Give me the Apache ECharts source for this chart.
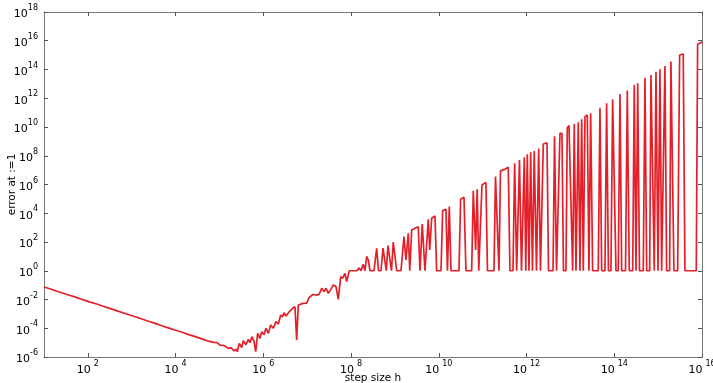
<!DOCTYPE html>
<html>
<head>
<meta charset="utf-8">
<script src="https://cdn.jsdelivr.net/npm/echarts@6.0.0/dist/echarts.min.js"></script>
<style>
  html, body { margin: 0; padding: 0; background: #fff; }
  #chart { width: 713px; height: 383px; }
</style>
</head>
<body>
<div id="chart"></div>
<script>
// exponents (base 10): h and error at that h
const hExponent = [
    1.00, 1.15, 1.30, 1.45, 1.60, 1.75, 1.90, 2.05, 2.20, 2.35, 2.50, 2.65, 2.80, 2.95,
    3.10, 3.25, 3.40, 3.55, 3.70, 3.85, 4.00, 4.15, 4.30, 4.45, 4.60, 4.75,
    4.784, 4.875, 4.944, 5.012, 5.103, 5.201, 5.263, 5.331, 5.377, 5.406, 5.452, 5.507,
    5.543, 5.605, 5.657, 5.695, 5.741, 5.787, 5.826, 5.871, 5.924, 5.962, 6.015, 6.060,
    6.113, 6.168, 6.227, 6.288, 6.341, 6.395, 6.441, 6.471, 6.516, 6.592, 6.623, 6.669,
    6.721, 6.760, 6.797, 6.835, 6.904, 6.988, 7.020, 7.047, 7.132, 7.177, 7.230, 7.276,
    7.330, 7.383, 7.428, 7.481, 7.535, 7.595, 7.656, 7.709, 7.763, 7.809, 7.861, 7.900,
    7.959, 8.044, 8.135, 8.187, 8.226, 8.278, 8.317, 8.356, 8.392, 8.431, 8.522, 8.584,
    8.625, 8.682, 8.728, 8.766, 8.803, 8.841, 8.880, 8.921, 8.962, 9.001, 9.040, 9.138,
    9.206, 9.252, 9.304, 9.338, 9.382, 9.457, 9.532, 9.571, 9.623, 9.685, 9.760, 9.794,
    9.838, 9.913, 9.951, 10.050, 10.088, 10.163, 10.197, 10.239, 10.278, 10.460, 10.498, 10.574,
    10.619, 10.749, 10.786, 10.840, 10.875, 10.911, 10.950, 10.984, 11.075, 11.109, 11.258, 11.292,
    11.333, 11.372, 11.406, 11.497, 11.584, 11.622, 11.691, 11.729, 11.775, 11.805, 11.839, 11.885,
    11.919, 11.949, 11.983, 12.017, 12.056, 12.094, 12.135, 12.176, 12.227, 12.277, 12.318, 12.352,
    12.382, 12.467, 12.501, 12.604, 12.638, 12.684, 12.729, 12.762, 12.808, 12.842, 12.899, 12.929,
    12.968, 13.013, 13.052, 13.088, 13.127, 13.180, 13.218, 13.257, 13.294, 13.332, 13.385, 13.423,
    13.462, 13.507, 13.635, 13.674, 13.713, 13.788, 13.826, 13.867, 13.924, 13.963, 13.993, 14.039,
    14.091, 14.130, 14.169, 14.256, 14.297, 14.342, 14.420, 14.456, 14.495, 14.534, 14.575, 14.661,
    14.700, 14.739, 14.807, 14.837, 14.876, 14.912, 14.951, 14.997, 15.041, 15.080, 15.116, 15.155,
    15.194, 15.262, 15.292, 15.322, 15.360, 15.445, 15.490, 15.572, 15.611, 15.869, 15.900, 15.953,
    16.000
];
const errExponent = [
    -1.13, -1.27, -1.43, -1.58, -1.72, -1.87, -2.03, -2.18, -2.31, -2.47, -2.62, -2.77, -2.92, -3.08,
    -3.22, -3.37, -3.53, -3.68, -3.84, -3.99, -4.14, -4.28, -4.44, -4.58, -4.74, -4.90,
    -4.95, -4.98, -5.00, -5.17, -5.20, -5.40, -5.35, -5.58, -5.45, -5.63, -5.05, -5.35,
    -4.87, -5.15, -4.77, -5.00, -4.59, -4.90, -5.63, -4.35, -4.70, -4.24, -4.45, -4.00,
    -4.35, -3.77, -4.00, -3.54, -3.70, -3.08, -3.20, -2.92, -3.15, -2.85, -2.85, -2.61,
    -2.50, -4.82, -2.38, -2.27, -2.27, -2.25, -2.15, -1.85, -1.65, -1.53, -1.69, -1.62,
    -1.22, -1.45, -1.22, -1.57, -1.33, -0.99, -1.10, -1.99, -0.41, -0.52, -0.18, -0.76,
    0, 0, 0, 0.20, 0, 0.45, 0, 1.00, 0.75, 0, 0, 1.56,
    0, 0, 1.58, 1.60, 0, 1.75, 1.82, 0, 2.00, 2.05, 0, 0,
    2.37, 0.75, 2.60, 0, 2.83, 2.95, 3.06, 0, 3.25, 0, 3.58, 1.44,
    3.65, 3.81, 0, 0, 4.18, 4.27, 0, 4.46, 0, 0, 4.97, 5.11,
    0, 0, 5.57, 1.44, 5.67, 0, 0, 5.97, 6.15, 0, 0, 6.55,
    6.66, 0, 6.95, 7.05, 7.20, 0, 0, 7.47, 0, 0, 7.70, 0,
    0, 7.89, 0, 8.10, 0, 8.24, 0, 8.33, 0, 8.51, 0, 0,
    8.82, 8.90, 0, 0, 9.35, 0, 0, 9.56, 9.56, 0, 0, 9.95,
    10.10, 10.20, 0, 10.21, 0, 10.33, 0, 10.53, 0, 10.72, 10.83, 0,
    10.95, 0, 0, 11.34, 0, 0, 11.65, 0, 0, 11.93, 12.00, 0,
    0, 12.30, 0, 0, 12.53, 0, 0, 12.92, 0, 13.04, 0, 0,
    13.43, 0, 0, 13.62, 13.65, 0, 13.85, 0, 14.01, 0, 0, 14.24,
    0, 0, 14.55, 14.61, 0, 0, 15.01, 15.08, 0, 0, 15.75, 15.83,
    15.93
];
const xTickValues = [1e2, 1e4, 1e6, 1e8, 1e10, 1e12, 1e14, 1e16];

const points = hExponent.map((e, i) => [Math.pow(10, e), Math.pow(10, errExponent[i])]);

const chart = echarts.init(document.getElementById('chart'), null, { renderer: 'canvas' });

function powLabel(value) {
    const exp = Math.round(Math.log10(value));
    return '{b|10}{e|' + exp + '}';
}

const frameColor = '#777';
const labelFont = 'DejaVu Sans';

function richStyle(gap) {
    return {
        b: { fontSize: 11, fontFamily: labelFont, color: '#000', lineHeight: 16, verticalAlign: 'bottom' },
        e: { fontSize: 8, fontFamily: labelFont, color: '#000', padding: [0, 0, 0, gap], verticalAlign: 'top', lineHeight: 16 }
    };
}

const xBase = {
    type: 'log',
    logBase: 10,
    min: 10,
    max: 1e16,
    axisLine: { show: true, lineStyle: { color: frameColor, width: 1 } },
    axisTick: { show: true, inside: true, length: 4, customValues: xTickValues, lineStyle: { color: '#555' } },
    splitLine: { show: false },
    minorTick: { show: false }
};
// log axis: interval is counted in decades, min exponent -6 is a multiple of 2
const yBase = {
    type: 'log',
    logBase: 10,
    min: 1e-6,
    max: 1e18,
    interval: 2,
    axisLine: { show: true, lineStyle: { color: frameColor, width: 1 } },
    axisTick: { show: true, inside: true, length: 4, lineStyle: { color: '#555' } },
    splitLine: { show: false },
    minorTick: { show: false }
};

chart.setOption({
    backgroundColor: '#fff',
    animation: false,
    grid: { left: 44, right: 11, top: 12, bottom: 26, containLabel: false, outerBoundsMode: 'none' },
    xAxis: [
        Object.assign({}, xBase, {
            position: 'bottom',
            name: 'step size h',
            nameLocation: 'middle',
            nameGap: 16,
            nameMoveOverlap: false,
            nameTextStyle: { fontSize: 10.5, fontFamily: labelFont, color: '#000' },
            axisLabel: {
                show: true, margin: 3, customValues: xTickValues,
                showMinLabel: true, showMaxLabel: true, hideOverlap: false,
                formatter: powLabel, rich: richStyle(3)
            }
        }),
        Object.assign({}, xBase, { position: 'top', axisLabel: { show: false } })
    ],
    yAxis: [
        Object.assign({}, yBase, {
            position: 'left',
            name: 'error at :=1',
            nameLocation: 'middle',
            nameGap: 26,
            nameMoveOverlap: false,
            nameTextStyle: { fontSize: 10.5, fontFamily: labelFont, color: '#000' },
            axisLabel: {
                show: true, margin: 6,
                showMinLabel: true, showMaxLabel: true, hideOverlap: false,
                formatter: powLabel, rich: richStyle(0)
            }
        }),
        Object.assign({}, yBase, { position: 'right', axisLabel: { show: false } })
    ],
    series: [{
        type: 'line',
        xAxisIndex: 0,
        yAxisIndex: 0,
        data: points,
        showSymbol: false,
        symbol: 'none',
        lineStyle: { color: '#e3202a', width: 1.7 },
        clip: true
    }]
});
</script>
</body>
</html>
